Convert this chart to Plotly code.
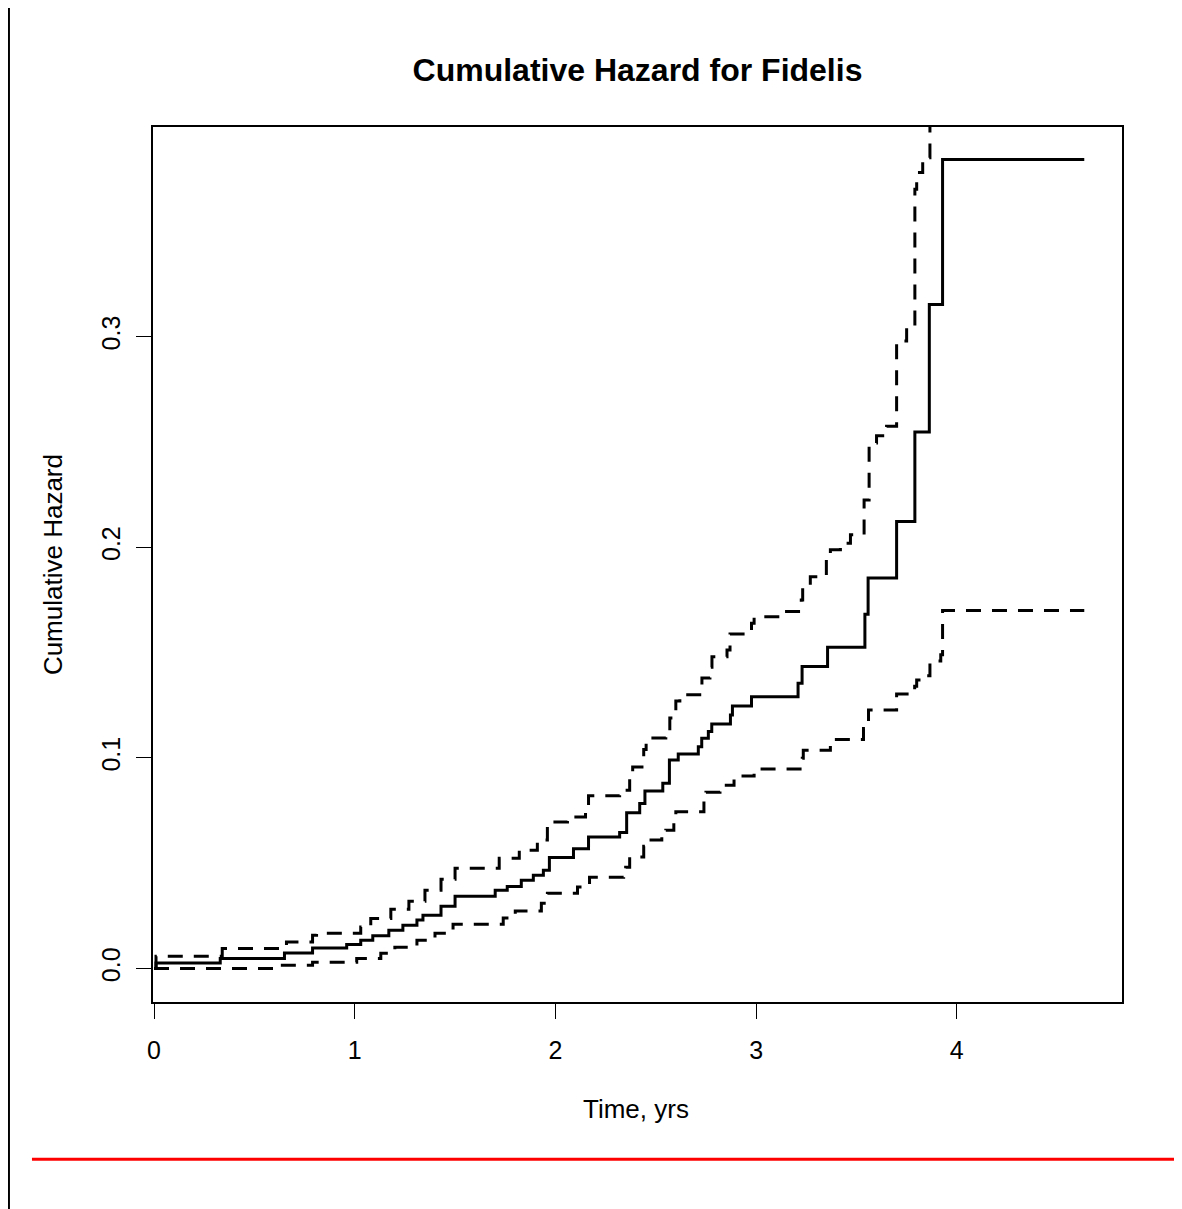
import plotly.graph_objects as go

# ---- data ----
est_time = [0.0, 0.01, 0.33, 0.65, 0.79, 0.96, 1.03, 1.09, 1.17, 1.24, 1.31, 1.34, 1.43, 1.50,
            1.70, 1.76, 1.83, 1.89, 1.94, 1.97, 2.09, 2.165, 2.32, 2.355, 2.42, 2.446, 2.535,
            2.568, 2.612, 2.712, 2.729, 2.762, 2.779, 2.872, 2.882, 2.977, 3.209, 3.229, 3.356,
            3.542, 3.558, 3.70, 3.791, 3.863, 3.929, 4.635]
est_val = [0.0, 0.0026, 0.0047, 0.0074, 0.0097, 0.0114, 0.0134, 0.0155, 0.0182, 0.0205, 0.0230,
           0.0253, 0.0296, 0.0343, 0.0372, 0.0390, 0.0419, 0.0443, 0.0467, 0.0527, 0.0569, 0.0624,
           0.0646, 0.0740, 0.0784, 0.0843, 0.0880, 0.0990, 0.1019, 0.1053, 0.1093, 0.1125, 0.1161,
           0.1204, 0.1247, 0.1291, 0.1355, 0.1434, 0.1526, 0.1682, 0.1854, 0.2123, 0.2548, 0.3153,
           0.3842, 0.3842]

upper_time = [0.0, 0.01, 0.34, 0.66, 0.79, 0.81, 1.03, 1.08, 1.18, 1.27, 1.35, 1.43, 1.50, 1.72,
              1.82, 1.91, 1.96, 2.06, 2.15, 2.165, 2.32, 2.37, 2.385, 2.44, 2.452, 2.55, 2.57,
              2.60, 2.62, 2.73, 2.77, 2.78, 2.855, 2.87, 2.977, 2.99, 3.12, 3.225, 3.232, 3.27,
              3.35, 3.37, 3.42, 3.47, 3.538, 3.563, 3.60, 3.65, 3.70, 3.75, 3.791, 3.80, 3.83,
              3.866, 3.929, 4.635]
upper_val = [0.0, 0.0058, 0.0095, 0.0126, 0.0158, 0.0167, 0.0197, 0.0237, 0.0281, 0.0319, 0.0372,
             0.0424, 0.0476, 0.0524, 0.0562, 0.0610, 0.0696, 0.0720, 0.0776, 0.0820, 0.0847,
             0.0930, 0.0957, 0.1040, 0.1095, 0.1120, 0.1190, 0.1270, 0.1300, 0.1380, 0.1430,
             0.1480, 0.1513, 0.1588, 0.1640, 0.1670, 0.1695, 0.1750, 0.1810, 0.1860, 0.1950,
             0.1988, 0.2020, 0.2060, 0.2225, 0.2496, 0.2530, 0.2575, 0.2980, 0.3050, 0.3700,
             0.3780, 0.3850, 0.5200, 0.8700, 0.8700]

lower_time = [0.0, 0.63, 0.79, 1.01, 1.13, 1.20, 1.31, 1.40, 1.49, 1.74, 1.80, 1.93, 1.96, 2.11,
              2.17, 2.34, 2.35, 2.37, 2.44, 2.45, 2.53, 2.55, 2.59, 2.60, 2.74, 2.75, 2.82, 2.84,
              2.89, 2.99, 3.23, 3.235, 3.37, 3.535, 3.56, 3.70, 3.79, 3.80, 3.86, 3.866, 3.92,
              3.929, 4.635]
lower_val = [0.0, 0.0015, 0.0030, 0.0048, 0.0072, 0.0101, 0.0134, 0.0167, 0.0210, 0.0240, 0.0273,
             0.0310, 0.0357, 0.0387, 0.0433, 0.0452, 0.0481, 0.0530, 0.0580, 0.0610, 0.0630,
             0.0657, 0.0700, 0.0745, 0.0810, 0.0837, 0.0860, 0.0870, 0.0914, 0.0947, 0.0999,
             0.1037, 0.1088, 0.1140, 0.1227, 0.1303, 0.1340, 0.1370, 0.1390, 0.1460, 0.1490,
             0.1700, 0.1700]

x_ticks = [0, 1, 2, 3, 4]
x_ticktext = ["0", "1", "2", "3", "4"]
y_ticks = [0.0, 0.1, 0.2, 0.3]
y_ticktext = ["0.0", "0.1", "0.2", "0.3"]

title_text = "Cumulative Hazard for Fidelis"
x_title = "Time, yrs"
y_title = "Cumulative Hazard"

# ---- layout constants ----
# the page body adds an 8px offset, so the figure is placed 8px up/left of page coords
OFF = 8
PAGE_W, PAGE_H = 1182, 1209
W, H = PAGE_W - OFF, PAGE_H - OFF
# plot box in page pixels: left 153, top 127, right 1121.7, bottom 1001.7
L = 153 - OFF
T = 127 - OFF
R = W - (1121.7 - OFF)
B = H - (1001.7 - OFF)
PW, PH = W - L - R, H - T - B
FONT = "Liberation Sans, Arial, sans-serif"


def px_x(px):  # page pixel -> paper x
    return (px - OFF - L) / PW


def px_y(py):  # page pixel -> paper y
    return (H - B - (py - OFF)) / PH


fig = go.Figure()
dash = "15px,11px"
fig.add_trace(go.Scatter(x=upper_time, y=upper_val, mode="lines", line_shape="hv",
                         line=dict(color="black", width=3, dash=dash), showlegend=False))
fig.add_trace(go.Scatter(x=lower_time, y=lower_val, mode="lines", line_shape="hv",
                         line=dict(color="black", width=3, dash=dash), showlegend=False))
fig.add_trace(go.Scatter(x=est_time, y=est_val, mode="lines", line_shape="hv",
                         line=dict(color="black", width=3), showlegend=False))

axis_common = dict(showgrid=False, zeroline=False, showline=True, mirror=True,
                   linecolor="black", linewidth=1.5, ticks="outside", ticklen=15,
                   tickwidth=1.3, tickcolor="black",
                   tickfont=dict(family=FONT, size=25, color="black"))

fig.update_xaxes(range=[-0.005, 4.823], tickvals=x_ticks, ticktext=x_ticktext,
                 ticklabelstandoff=10, **axis_common)
fig.update_yaxes(range=[-0.0159, 0.3996], tickvals=y_ticks, ticktext=y_ticktext,
                 tickangle=-90, ticklabelstandoff=6, **axis_common)

fig.update_layout(
    width=W, height=H, autosize=False,
    margin=dict(l=L, r=R, t=T, b=B, pad=0),
    paper_bgcolor="white", plot_bgcolor="white",
    title=dict(text="<b>" + title_text + "</b>", xref="paper", x=0.5, xanchor="center",
               yref="container", y=1 - (69.5 - OFF) / H, yanchor="middle",
               font=dict(family=FONT, size=32, color="black")),
    annotations=[
        dict(text=x_title, xref="paper", yref="paper", x=px_x(636), y=px_y(1109),
             xanchor="center", yanchor="middle", showarrow=False,
             font=dict(family=FONT, size=26, color="black")),
        dict(text=y_title, xref="paper", yref="paper", x=px_x(53), y=px_y(564),
             xanchor="center", yanchor="middle", showarrow=False, textangle=-90,
             font=dict(family=FONT, size=26, color="black")),
    ],
    shapes=[
        dict(type="line", xref="paper", yref="paper", x0=px_x(9), x1=px_x(9),
             y0=px_y(5), y1=px_y(1209), line=dict(color="black", width=2)),
        dict(type="line", xref="paper", yref="paper", x0=px_x(32), x1=px_x(1182),
             y0=px_y(1159), y1=px_y(1159), line=dict(color="#ff0000", width=3)),
    ],
)

fig.write_html("out.html")
